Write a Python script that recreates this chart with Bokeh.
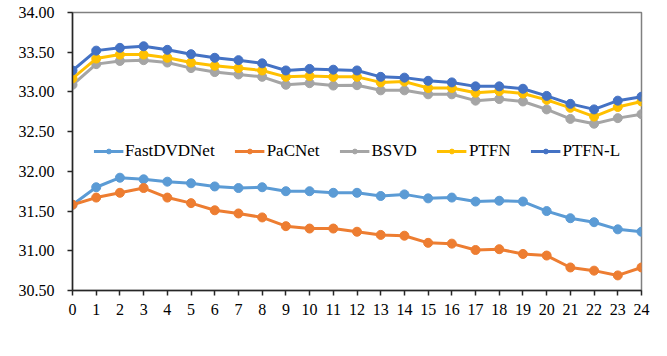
from bokeh.plotting import figure
from bokeh.models import Legend, LegendItem, FixedTicker, NumeralTickFormatter, Range1d
from bokeh.embed import file_html
from bokeh.resources import INLINE

frames = list(range(25))
fastdvdnet = [31.58, 31.80, 31.92, 31.90, 31.87, 31.85, 31.81, 31.79, 31.80, 31.75, 31.75, 31.73, 31.73,
              31.69, 31.71, 31.66, 31.67, 31.62, 31.63, 31.62, 31.50, 31.41, 31.36, 31.27, 31.24]
pacnet = [31.58, 31.67, 31.73, 31.79, 31.67, 31.60, 31.51, 31.47, 31.42, 31.31, 31.28, 31.28, 31.24,
          31.20, 31.19, 31.10, 31.09, 31.01, 31.02, 30.96, 30.94, 30.79, 30.75, 30.69, 30.79]
bsvd = [33.09, 33.35, 33.39, 33.40, 33.37, 33.30, 33.25, 33.22, 33.19, 33.09, 33.11, 33.08, 33.085,
        33.02, 33.02, 32.97, 32.97, 32.89, 32.91, 32.88, 32.78, 32.66, 32.60, 32.67, 32.72]
ptfn = [33.17, 33.42, 33.47, 33.47, 33.43, 33.37, 33.33, 33.30, 33.27, 33.19, 33.20, 33.19, 33.19,
        33.12, 33.13, 33.05, 33.05, 32.99, 33.01, 32.98, 32.90, 32.80, 32.69, 32.81, 32.88]
ptfn_l = [33.27, 33.52, 33.555, 33.575, 33.53, 33.475, 33.43, 33.40, 33.36, 33.27, 33.29, 33.28, 33.27,
          33.19, 33.18, 33.14, 33.12, 33.07, 33.07, 33.04, 32.95, 32.85, 32.78, 32.89, 32.94]
y_ticks = [30.5, 31.0, 31.5, 32.0, 32.5, 33.0, 33.5, 34.0]

series = [("FastDVDNet", fastdvdnet, "#5B9BD5"),
          ("PaCNet", pacnet, "#ED7D31"),
          ("BSVD", bsvd, "#A5A5A5"),
          ("PTFN", ptfn, "#FFC000"),
          ("PTFN-L", ptfn_l, "#4472C4")]

FONT = "Liberation Serif"

p = figure(width=651, height=340, output_backend="svg", toolbar_location=None,
           x_range=Range1d(0, 24), y_range=Range1d(30.5, 34.0))
p.min_border_left = 72
p.min_border_top = 12
p.min_border_right = 10
p.min_border_bottom = 50
p.xgrid.visible = False
p.ygrid.visible = False
p.outline_line_color = "#808080"
p.outline_line_width = 1.5

p.xaxis.ticker = FixedTicker(ticks=frames)
p.yaxis.ticker = FixedTicker(ticks=y_ticks)
p.yaxis.formatter = NumeralTickFormatter(format="0.00")
for ax in (p.xaxis[0], p.yaxis[0]):
    ax.axis_line_color = "#262626"
    ax.axis_line_width = 1.5
    ax.major_tick_line_color = "#262626"
    ax.major_tick_line_width = 1.5
    ax.major_tick_in = 0
    ax.major_tick_out = 5
    ax.minor_tick_line_color = None
    ax.major_label_text_font = FONT
    ax.major_label_text_font_size = "16px"
    ax.major_label_text_color = "#000000"
p.yaxis.major_label_standoff = 13
p.xaxis.major_label_standoff = 8

items = []
for name, vals, col in series:
    r1 = p.line(frames, vals, line_color=col, line_width=3)
    r2 = p.scatter(frames, vals, size=9, marker="circle", fill_color=col, line_color=col)
    items.append(LegendItem(label=name, renderers=[r1, r2]))

legend = Legend(items=items, orientation="horizontal", location="center",
                label_text_font=FONT, label_text_font_size="17px", label_text_color="#000000",
                glyph_width=30, glyph_height=12, label_standoff=2, spacing=20,
                border_line_color=None, background_fill_alpha=0, padding=2, margin=0)
p.add_layout(legend)

open("out.html", "w").write(file_html(p, INLINE))
